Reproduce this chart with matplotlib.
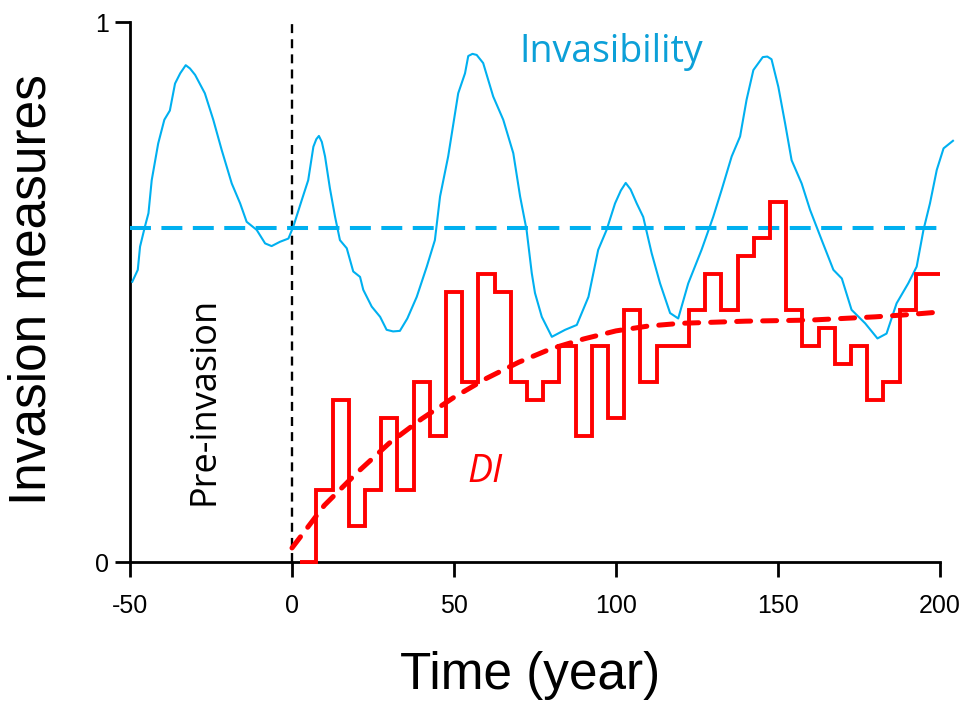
import numpy as np
import matplotlib
matplotlib.use('Agg')
import matplotlib.pyplot as plt

# 入侵性曲线 (Invasibility)
inv_t = [-49.3, -47.6, -46.9, -45.4, -44.3, -43.3, -41.3, -39.4, -37.7, -36.1,
         -34.5, -32.8, -31.5, -29.9, -26.9, -24.3, -21.7, -18.6, -16.0, -14.0,
         -10.9, -8.3, -6.3, -3.7, -1.1, 0.4, 3.0, 5.0, 6.6, 7.5,
         8.3, 9.2, 10.2, 11.7, 13.3, 14.8, 16.9, 18.9, 21.0, 22.0,
         24.6, 27.2, 29.2, 31.2, 33.3, 35.6, 38.5, 41.6, 44.1, 45.7,
         48.2, 51.3, 53.4, 54.4, 55.7, 57.0, 59.0, 62.1, 65.2, 68.3,
         70.4, 72.4, 74.0, 75.0, 77.1, 80.2, 84.3, 87.9, 91.5, 94.5,
         97.1, 99.7, 101.5, 103.0, 104.5, 106.4, 108.4, 111.0, 113.6, 116.7,
         119.2, 122.3, 126.4, 130.0, 132.6, 135.7, 138.3, 140.3, 142.4, 145.3,
         146.7, 148.0, 150.1, 152.2, 154.2, 157.3, 159.9, 163.5, 167.1, 169.7,
         172.7, 176.9, 180.7, 183.5, 186.6, 190.2, 192.8, 194.9, 196.9, 199.0,
         201.1, 204.0]
inv_v = [0.519, 0.541, 0.584, 0.621, 0.646, 0.707, 0.775, 0.819, 0.836, 0.886,
         0.905, 0.920, 0.914, 0.902, 0.868, 0.819, 0.763, 0.701, 0.664, 0.630,
         0.615, 0.590, 0.585, 0.593, 0.599, 0.621, 0.670, 0.707, 0.769, 0.783,
         0.789, 0.778, 0.751, 0.692, 0.639, 0.596, 0.581, 0.538, 0.528, 0.504,
         0.473, 0.454, 0.430, 0.427, 0.428, 0.451, 0.491, 0.547, 0.596, 0.677,
         0.751, 0.868, 0.905, 0.937, 0.941, 0.939, 0.924, 0.862, 0.819, 0.757,
         0.677, 0.615, 0.535, 0.498, 0.454, 0.417, 0.430, 0.439, 0.491, 0.578,
         0.615, 0.664, 0.688, 0.702, 0.690, 0.664, 0.639, 0.572, 0.516, 0.461,
         0.451, 0.516, 0.578, 0.639, 0.689, 0.751, 0.788, 0.856, 0.911, 0.935,
         0.936, 0.931, 0.880, 0.812, 0.744, 0.701, 0.652, 0.596, 0.541, 0.525,
         0.467, 0.442, 0.414, 0.423, 0.479, 0.516, 0.547, 0.615, 0.664, 0.726,
         0.766, 0.780]
inv_mean = 0.619
inv_mean_span = [-50, 202]

# DI 阶梯值, 每5年一个
di_years = np.arange(5, 200, 5)
di_vals = [0.0, 0.133, 0.3, 0.067, 0.133, 0.267, 0.133, 0.333, 0.233, 0.5,
           0.333, 0.533, 0.5, 0.333, 0.3, 0.333, 0.4, 0.233, 0.4, 0.267,
           0.467, 0.333, 0.4, 0.4, 0.467, 0.533, 0.467, 0.567, 0.6, 0.667,
           0.467, 0.4, 0.433, 0.367, 0.4, 0.3, 0.333, 0.467, 0.533]
di_end = 200

# DI 拟合曲线
fit_t = [0, 10, 20, 30, 40, 50, 60, 70, 80, 90, 100, 110, 120, 130, 140, 150,
         160, 170, 180, 190, 200]
fit_v = [0.026, 0.105, 0.165, 0.220, 0.265, 0.305, 0.340, 0.370, 0.395, 0.413,
         0.428, 0.437, 0.442, 0.444, 0.446, 0.447, 0.448, 0.451, 0.454, 0.458,
         0.463]

x_ticks = [-50, 0, 50, 100, 150, 200]
y_ticks = [0, 1]

blue = '#00B0F0'
red = '#FF0000'
arial = ['Liberation Sans', 'DejaVu Sans']
calibri = ['Open Sans', 'DejaVu Sans']

W, H = 969, 708
fig = plt.figure(figsize=(W / 100, H / 100), dpi=100)
ax = fig.add_axes([130 / W, 1 - 562 / H, 810 / W, 540 / H])

# 入侵性
ax.plot(inv_t, inv_v, color=blue, lw=1.5, clip_on=False, zorder=3)
ax.plot(inv_mean_span, [inv_mean, inv_mean], color=blue, lw=2.9,
        linestyle=(0, (5.2, 2.6)), clip_on=False, zorder=3)

# 入侵时刻
ax.plot([0, 0], [0, 1], color='black', lw=1.7, linestyle=(0, (3.8, 2.6)),
        zorder=2)

# DI 阶梯
edges = np.append(di_years - 2.5, di_end)
ax.stairs(di_vals, edges, baseline=None, color=red, lw=2.8, zorder=4,
          clip_on=False)
ax.plot(fit_t, fit_v, color=red, lw=3.6, linestyle=(0, (2.8, 2.4)),
        dash_capstyle='round', zorder=5)

ax.set_xlim(-50, 200)
ax.set_ylim(0, 1)
ax.set_xticks(x_ticks)
ax.set_yticks(y_ticks)
ax.set_xticklabels([str(v) for v in x_ticks], family=arial, fontsize=18)
ax.set_yticklabels([str(v) for v in y_ticks], family=arial, fontsize=18)

for s in ['top', 'right']:
    ax.spines[s].set_visible(False)
for s in ['left', 'bottom']:
    ax.spines[s].set_linewidth(2.0)
ax.tick_params(axis='x', direction='out', length=11, width=2.0, pad=12)
ax.tick_params(axis='y', direction='out', length=11, width=2.0, pad=4)

fig.text(530 / W, 1 - 676 / H, 'Time (year)', fontsize=37, family=arial,
         ha='center', va='center')
fig.text(32 / W, 1 - 290 / H, 'Invasion measures', fontsize=37,
         family=arial, rotation=90, ha='center', va='center')

ax.text(98.5, 0.945, 'Invasibility', color='#0CA0D8', fontsize=27,
        family=calibri, ha='center', va='center')
ax.text(-26.9, 0.298, 'Pre-invasion', color='black', fontsize=26,
        family=calibri, rotation=90, ha='center', va='center')
ax.text(59.6, 0.167, 'DI', color=red, fontsize=27, style='italic',
        family=calibri, ha='center', va='center')

fig.savefig('out.png', dpi=100)
